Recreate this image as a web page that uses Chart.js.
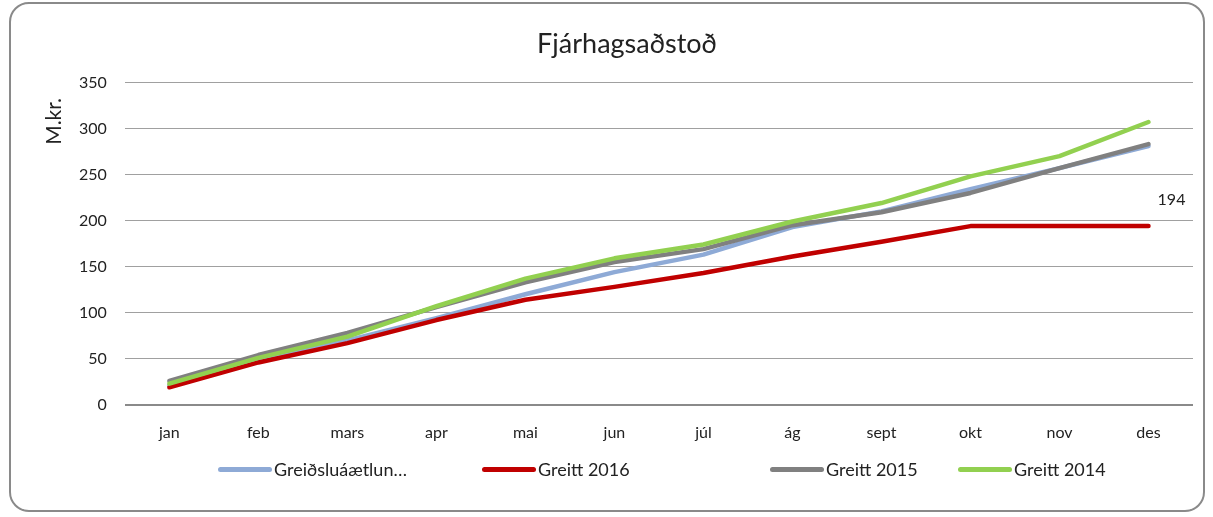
<!DOCTYPE html>
<html>
<head>
<meta charset="utf-8">
<script src="https://cdn.jsdelivr.net/npm/chart.js@4.4.1/dist/chart.umd.min.js"></script>
<style>
  html, body { margin: 0; padding: 0; background: #fff; }
  body { width: 1213px; height: 517px; position: relative; overflow: hidden; font-family: Lato, "Open Sans", sans-serif; }
  .frame {
    position: absolute; left: 9px; top: 2px; width: 1196px; height: 510px;
    box-sizing: border-box; border: 2px solid #8a8a8a; border-radius: 20px;
  }
  .frame canvas { position: absolute; left: 0; top: 0; }
  #legend {
    position: absolute; left: 218px; top: 458px;
    display: flex; font-size: 18px; color: #222; white-space: nowrap;
  }
  #legend .item { display: flex; align-items: center; }
  #legend .swatch { width: 54px; height: 5px; border-radius: 2.5px; margin-right: 2px; }
</style>
</head>
<body>
<div class="frame">
  <canvas id="chart" width="1192" height="506"></canvas>
</div>
<div id="legend"></div>
<script>
const months = ['jan', 'feb', 'mars', 'apr', 'mai', 'jun', 'júl', 'ág', 'sept', 'okt', 'nov', 'des'];

// values in M.kr.
const plan2016 = [21, 49, 70, 94, 120, 144, 163, 193, 210, 234, 257, 281];
const paid2016 = [19, 46, 67, 92, 114, 128, 143, 161, 177, 194, 194, 194];
const paid2015 = [26, 54, 78, 106, 133, 155, 169, 195, 209, 230, 257, 283];
const paid2014 = [23, 51, 74, 107, 137, 159, 174, 199, 219, 248, 270, 307];

const yTicks = [0, 50, 100, 150, 200, 250, 300, 350];

// excel spaces the legend entries unevenly
const legendSlots = [264, 288, 188, 0];

const FONT = 'Lato, "Open Sans", sans-serif';
const TEXT = '#222';

function line(label, data, color, order) {
    return {
        label: label,
        data: data,
        borderColor: color,
        backgroundColor: color,
        borderWidth: 4.5,
        borderCapStyle: 'round',
        borderJoinStyle: 'round',
        pointRadius: 0,
        tension: 0,
        order: order
    };
}

// "194" on the last point of Greitt 2016, and the rotated axis title
const extraText = {
    id: 'extraText',
    afterDatasetsDraw(chart) {
        const ctx = chart.ctx;
        const meta = chart.getDatasetMeta(1);
        const last = meta.data[meta.data.length - 1];
        const values = chart.data.datasets[1].data;
        ctx.save();
        ctx.fillStyle = TEXT;
        ctx.font = '16px ' + FONT;
        ctx.textAlign = 'center';
        ctx.textBaseline = 'middle';
        ctx.fillText(String(values[values.length - 1]), last.x + 23, last.y - 26);

        const area = chart.chartArea;
        ctx.translate(area.left - 71, area.top + 39);
        ctx.rotate(-Math.PI / 2);
        ctx.font = '21px ' + FONT;
        ctx.fillText('M.kr.', 0, 0);
        ctx.restore();
    }
};

const chart = new Chart(document.getElementById('chart'), {
    type: 'line',
    data: {
        labels: months,
        datasets: [
            line('Greiðsluáætlun…', plan2016, '#8eaad6', 4),
            line('Greitt 2016', paid2016, '#c00000', 3),
            line('Greitt 2015', paid2015, '#808080', 2),
            line('Greitt 2014', paid2014, '#92d050', 1)
        ]
    },
    options: {
        responsive: false,
        animation: false,
        layout: { padding: { left: 50, right: 10, top: 10, bottom: 50 } },
        plugins: {
            legend: { display: false },
            tooltip: { enabled: false },
            title: {
                display: true,
                text: 'Fjárhagsaðstoð',
                color: TEXT,
                font: { family: FONT, size: 27, weight: 'normal' },
                padding: { top: 14, bottom: 22 }
            }
        },
        scales: {
            x: {
                offset: true,
                grid: { display: false, drawTicks: false },
                border: { display: false },
                ticks: { color: TEXT, font: { family: FONT, size: 16 }, padding: 18, maxRotation: 0 }
            },
            y: {
                min: 0,
                max: 350,
                afterBuildTicks(axis) {
                    axis.ticks = yTicks.map(v => ({ value: v }));
                },
                grid: {
                    color: ctx => ctx.tick && ctx.tick.value === 0 ? '#8a8a8a' : '#a0a0a0',
                    lineWidth: ctx => ctx.tick && ctx.tick.value === 0 ? 2 : 1,
                    drawTicks: false
                },
                border: { display: false },
                ticks: { color: TEXT, font: { family: FONT, size: 16 }, padding: 18 }
            }
        }
    },
    plugins: [extraText]
});

// html legend, built from the chart's datasets in their original order
const legendEl = document.getElementById('legend');
chart.data.datasets.forEach((ds, i) => {
    const item = document.createElement('div');
    item.className = 'item';
    if (legendSlots[i]) item.style.width = legendSlots[i] + 'px';
    const sw = document.createElement('span');
    sw.className = 'swatch';
    sw.style.background = ds.borderColor;
    const txt = document.createElement('span');
    txt.textContent = ds.label;
    item.appendChild(sw);
    item.appendChild(txt);
    legendEl.appendChild(item);
});
</script>
</body>
</html>
